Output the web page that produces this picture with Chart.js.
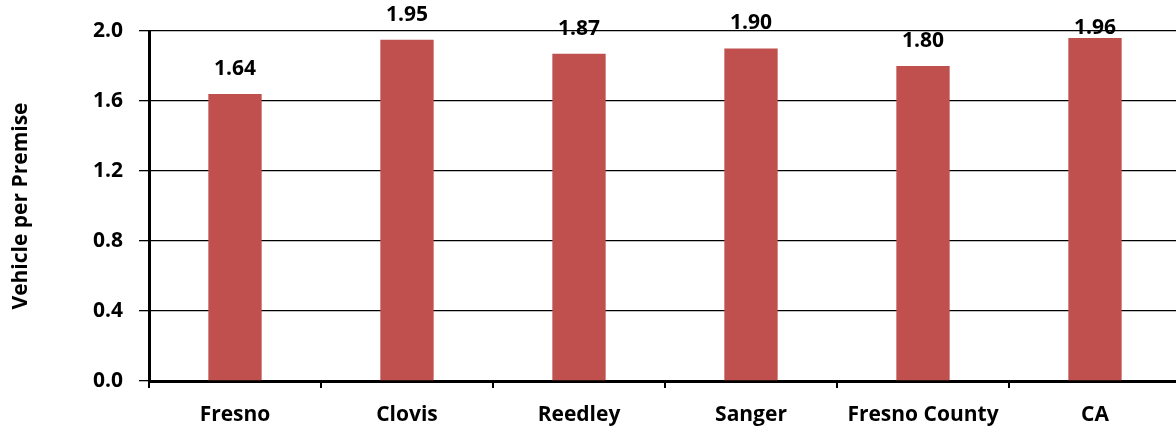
<!DOCTYPE html>
<html>
<head>
<meta charset="utf-8">
<script src="https://cdn.jsdelivr.net/npm/chart.js@4/dist/chart.umd.min.js"></script>
<style>
  html, body { margin: 0; padding: 0; background: #fff; overflow: hidden; }
  #wrap { width: 1181px; height: 430px; }
</style>
</head>
<body>
<div id="wrap"><canvas id="c" width="1181" height="430"></canvas></div>
<script>
const categories = ["Fresno", "Clovis", "Reedley", "Sanger", "Fresno County", "CA"];
const vehiclesPerPremise = [1.64, 1.95, 1.87, 1.90, 1.80, 1.96];
const yTicks = [0.0, 0.4, 0.8, 1.2, 1.6, 2.0];

const FONT = "'Open Sans', Calibri, sans-serif";

// draws the value above each bar, pulled closer to the bar if it would leave the canvas
const barLabels = {
  id: "barLabels",
  afterDatasetsDraw: (chart) => {
    const ctx = chart.ctx;
    const meta = chart.getDatasetMeta(0);
    ctx.save();
    ctx.font = "bold 21px " + FONT;
    ctx.fillStyle = "#000";
    ctx.textAlign = "center";
    ctx.textBaseline = "middle";
    meta.data.forEach((bar, i) => {
      let y = bar.y - 25;
      if (y < 14) y = bar.y - 10;
      ctx.fillText(vehiclesPerPremise[i].toFixed(2), bar.x, y);
    });
    ctx.restore();
  },
};

new Chart(document.getElementById("c"), {
  type: "bar",
  data: {
    labels: categories,
    datasets: [
      {
        label: "Vehicle per Premise",
        data: vehiclesPerPremise,
        backgroundColor: "#C0504D",
        borderWidth: 0,
        categoryPercentage: 1,
        barPercentage: 0.31,
      },
    ],
  },
  options: {
    responsive: false,
    animation: false,
    layout: { padding: { top: 31, right: 0, left: 0, bottom: 0 } },
    plugins: { legend: { display: false }, tooltip: { enabled: false } },
    scales: {
      x: {
        afterFit: (scale) => { scale.height = 49; },
        grid: {
          offset: true,
          drawOnChartArea: false,
          color: "#000",
          lineWidth: 2,
          tickLength: 7,
        },
        border: { color: "#000", width: 3 },
        ticks: {
          color: "#000",
          font: { family: FONT, weight: "bold", size: 21 },
          padding: 14,
          maxRotation: 0,
        },
      },
      y: {
        min: 0,
        max: 2,
        afterFit: (scale) => { scale.width = 149; },
        afterBuildTicks: (scale) => { scale.ticks = yTicks.map((v) => ({ value: v })); },
        grid: { color: "#000", lineWidth: 1.3, tickLength: 10 },
        border: { color: "#000", width: 3 },
        ticks: {
          color: "#000",
          font: { family: FONT, weight: "bold", size: 21 },
          padding: 16,
          callback: (v) => Number(v).toFixed(1),
        },
        title: {
          display: true,
          text: "Vehicle per Premise",
          color: "#000",
          font: { family: FONT, weight: "bold", size: 21 },
          padding: { top: 8, bottom: 0 },
        },
      },
    },
  },
  plugins: [barLabels],
});
</script>
</body>
</html>
